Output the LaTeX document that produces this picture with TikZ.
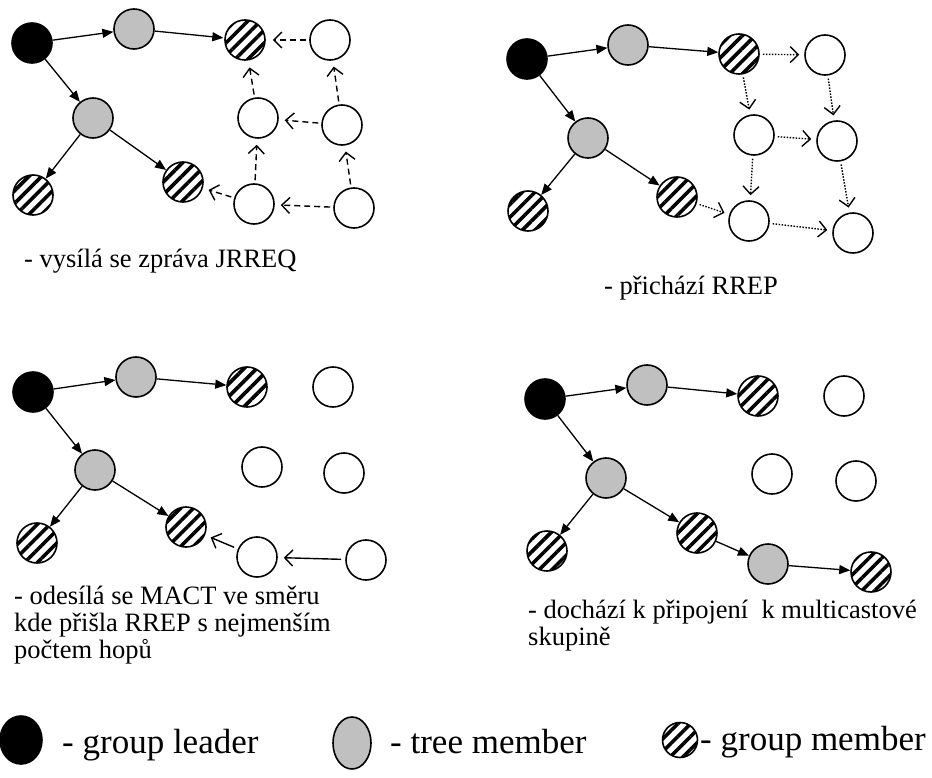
\documentclass[tikz,border=0pt]{standalone}
\usepackage{fontspec}
\setmainfont{Liberation Serif}
\usetikzlibrary{arrows.meta,patterns.meta,shapes.geometric}
\definecolor{treegray}{HTML}{C0C0C0}

\begin{document}
\begin{tikzpicture}[x=1pt,y=-1pt,
    every node/.style={inner sep=0pt},
    nd/.style={circle,draw,line width=1.6pt,minimum size=40pt},
    leadnode/.style={nd,fill=black},
    treenode/.style={nd,fill=treegray},
    groupnode/.style={nd,pattern={Lines[angle=45,distance=9pt,line width=3.6pt]}},
    freenode/.style={nd,fill=white},
    treearrow/.style={line width=1.3pt,-{Triangle[length=11pt,width=9pt]}},
    reqarrow/.style={line width=1.4pt,dash pattern=on 6pt off 4pt,
        -{Straight Barb[length=8pt,width=16pt]},shorten >=6pt,shorten <=3pt},
    reparrow/.style={line width=1.4pt,dash pattern=on 1.5pt off 1.5pt,
        -{Straight Barb[length=8pt,width=16pt]},shorten >=5pt,shorten <=3pt},
    actarrow/.style={line width=1.4pt,
        -{Straight Barb[length=8pt,width=16pt]},shorten >=6pt,shorten <=4pt},
    caption/.style={anchor=north west,align=left,font=\fontsize{26.5}{26.8}\selectfont},
    legendtext/.style={anchor=base west,font=\fontsize{35}{36}\selectfont}]
    \useasboundingbox (0,0) rectangle (932,778);

    % JRREQ
    \node[leadnode]  (l1)  at (32,43)   {};
    \node[treenode]  (t1a) at (134,29)  {};
    \node[groupnode] (g1a) at (245,40)  {};
    \node[freenode]  (w1a) at (330,40)  {};
    \node[treenode]  (t1b) at (93,118)  {};
    \node[groupnode] (g1b) at (33,195)  {};
    \node[groupnode] (g1c) at (183,182) {};
    \node[freenode]  (w1b) at (258,118) {};
    \node[freenode]  (w1c) at (342,125) {};
    \node[freenode]  (w1d) at (254,204) {};
    \node[freenode]  (w1e) at (354,208) {};
    \draw[treearrow] (l1) -- (t1a);
    \draw[treearrow] (t1a) -- (g1a);
    \draw[treearrow] (l1) -- (t1b);
    \draw[treearrow] (t1b) -- (g1b);
    \draw[treearrow] (t1b) -- (g1c);
    \draw[reqarrow] (w1a) -- (g1a);
    \draw[reqarrow] (w1b) -- (g1a);
    \draw[reqarrow] (w1c) -- (w1a);
    \draw[reqarrow] (w1c) -- (w1b);
    \draw[reqarrow] (w1d) -- (w1b);
    \draw[reqarrow] (w1d) -- (g1c);
    \draw[reqarrow] (w1e) -- (w1d);
    \draw[reqarrow] (w1e) -- (w1c);
    \node[caption] (c1) at (24,249) {- vysílá se zpráva JRREQ};

    % RREP
    \node[leadnode]  (l2)  at (527,59)  {};
    \node[treenode]  (t2a) at (628,45)  {};
    \node[groupnode] (g2a) at (739,54)  {};
    \node[freenode]  (w2a) at (825,55)  {};
    \node[treenode]  (t2b) at (588,138) {};
    \node[groupnode] (g2b) at (528,211) {};
    \node[groupnode] (g2c) at (677,197) {};
    \node[freenode]  (w2b) at (754,135) {};
    \node[freenode]  (w2c) at (837,141) {};
    \node[freenode]  (w2d) at (749,221) {};
    \node[freenode]  (w2e) at (853,233) {};
    \draw[treearrow] (l2) -- (t2a);
    \draw[treearrow] (t2a) -- (g2a);
    \draw[treearrow] (l2) -- (t2b);
    \draw[treearrow] (t2b) -- (g2b);
    \draw[treearrow] (t2b) -- (g2c);
    \draw[reparrow] (g2a) -- (w2a);
    \draw[reparrow] (g2a) -- (w2b);
    \draw[reparrow] (w2a) -- (w2c);
    \draw[reparrow] (w2b) -- (w2c);
    \draw[reparrow] (w2b) -- (w2d);
    \draw[reparrow] (w2c) -- (w2e);
    \draw[reparrow] (g2c) -- (w2d);
    \draw[reparrow] (w2d) -- (w2e);
    \node[caption] (c2) at (604,276) {- přichází RREP};

    % MACT
    \node[leadnode]  (l3)  at (33,392)  {};
    \node[treenode]  (t3a) at (136,377) {};
    \node[groupnode] (g3a) at (247,387) {};
    \node[freenode]  (w3a) at (333,387) {};
    \node[treenode]  (t3b) at (95,470)  {};
    \node[freenode]  (w3b) at (262,467) {};
    \node[freenode]  (w3c) at (344,473) {};
    \node[groupnode] (g3b) at (37,543)  {};
    \node[groupnode] (g3c) at (186,527) {};
    \node[freenode]  (w3d) at (257,557) {};
    \node[freenode]  (w3e) at (366,560) {};
    \draw[treearrow] (l3) -- (t3a);
    \draw[treearrow] (t3a) -- (g3a);
    \draw[treearrow] (l3) -- (t3b);
    \draw[treearrow] (t3b) -- (g3b);
    \draw[treearrow] (t3b) -- (g3c);
    \draw[actarrow] (w3d) -- (g3c);
    \draw[actarrow] (w3e) -- (w3d);
    \node[caption] (c3) at (14,586)
        {- odesílá se MACT ve směru\\kde přišla RREP s nejmenším\\počtem hopů};

    % pripojeni
    \node[leadnode]  (l4)  at (545,399) {};
    \node[treenode]  (t4a) at (647,385) {};
    \node[groupnode] (g4a) at (758,396) {};
    \node[freenode]  (w4a) at (844,396) {};
    \node[treenode]  (t4b) at (606,478) {};
    \node[freenode]  (w4b) at (772,474) {};
    \node[freenode]  (w4c) at (856,481) {};
    \node[groupnode] (g4b) at (547,551) {};
    \node[groupnode] (g4c) at (697,533) {};
    \node[treenode]  (t4c) at (768,564) {};
    \node[groupnode] (g4d) at (871,572) {};
    \draw[treearrow] (l4) -- (t4a);
    \draw[treearrow] (t4a) -- (g4a);
    \draw[treearrow] (l4) -- (t4b);
    \draw[treearrow] (t4b) -- (g4b);
    \draw[treearrow] (t4b) -- (g4c);
    \draw[treearrow] (g4c) -- (t4c);
    \draw[treearrow] (t4c) -- (g4d);
    \node[caption] (c4) at (528,600)
        {- dochází k připojení~ k multicastové\\skupině};

    % legenda
    \node[leadnode,ellipse,minimum width=42pt,minimum height=48pt] (kl) at (21,740) {};
    \node[legendtext] (kltext) at (62,753) {- group leader};
    \node[treenode,ellipse,minimum width=38pt,minimum height=52pt] (kt) at (352,743) {};
    \node[legendtext] (kttext) at (390,753) {- tree member};
    \node[groupnode,minimum size=35pt] (kg) at (680,740) {};
    \node[legendtext] (kgtext) at (700,750) {- group member};
\end{tikzpicture}
\end{document}
